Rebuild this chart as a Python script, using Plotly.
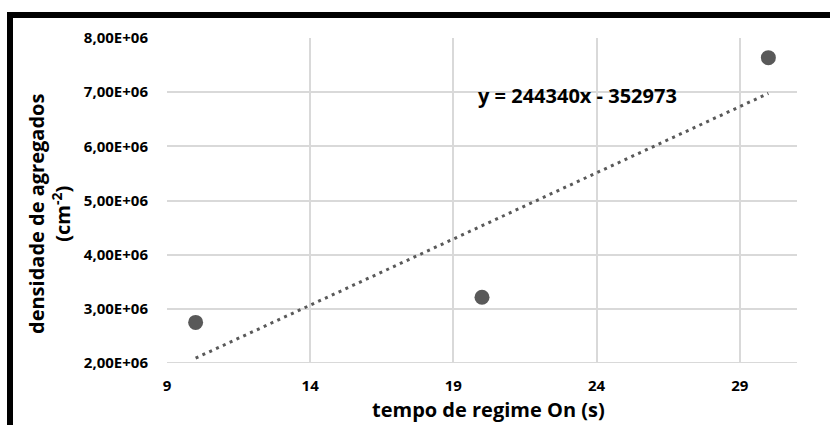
import plotly.graph_objects as go

# Data
tempo_on = [10, 20, 30]
densidade = [2.75e6, 3.215e6, 7.637e6]
trend_slope = 244340
trend_intercept = -352973
trend_x = [10, 30]
eq_label = "y = 244340x - 352973"
x_ticks = [9, 14, 19, 24, 29]
y_ticks = [2e6, 3e6, 4e6, 5e6, 6e6, 7e6, 8e6]
y_tick_labels = ["2,00E+06", "3,00E+06", "4,00E+06", "5,00E+06", "6,00E+06", "7,00E+06", "8,00E+06"]

FONT = "Open Sans"
GRAY = "#595959"
GRID = "#d9d9d9"

trend_y = [trend_slope * x + trend_intercept for x in trend_x]

fig = go.Figure()
fig.add_trace(go.Scatter(
    x=trend_x, y=trend_y, mode="lines",
    line=dict(color=GRAY, width=3, dash="3px,4.5px"),
    hoverinfo="skip", showlegend=False,
))
fig.add_trace(go.Scatter(
    x=tempo_on, y=densidade, mode="markers",
    marker=dict(color=GRAY, size=15),
    showlegend=False,
))

L, R, T, B = 167, 33, 38, 62
W, H = 830, 425
pw, ph = W - L - R, H - T - B

def px(xp):
    return (xp - L) / pw

def py(yp):
    return (H - B - yp) / ph

fig.update_layout(
    width=W, height=H,
    margin=dict(l=L, r=R, t=T, b=B),
    paper_bgcolor="white", plot_bgcolor="white",
    font=dict(family=FONT, color="black"),
    xaxis=dict(
        range=[9, 31], tickvals=x_ticks, ticktext=[str(v) for v in x_ticks],
        showgrid=True, gridcolor=GRID, gridwidth=1.5,
        zeroline=False, showline=False, ticks="",
        tickfont=dict(size=15, family=FONT, weight="bold", color="black"),
        ticklabelstandoff=12,
    ),
    yaxis=dict(
        range=[2e6, 8e6], tickvals=y_ticks, ticktext=y_tick_labels,
        showgrid=True, gridcolor=GRID, gridwidth=1.5,
        zeroline=False, showline=False, ticks="",
        tickfont=dict(size=15, family=FONT, weight="bold", color="black"),
        ticklabelstandoff=18,
    ),
    shapes=[
        dict(type="line", xref="x", yref="y", x0=9, x1=31, y0=2e6, y1=2e6,
             line=dict(color=GRID, width=2), layer="below"),
        dict(type="rect", xref="paper", yref="paper",
             x0=px(7), x1=px(835), y0=py(18), y1=py(12),
             fillcolor="black", line=dict(width=0)),
        dict(type="rect", xref="paper", yref="paper",
             x0=px(7), x1=px(13), y0=py(430), y1=py(12),
             fillcolor="black", line=dict(width=0)),
    ],
    annotations=[
        dict(text=eq_label, xref="paper", yref="paper",
             x=px(577), y=py(95), xanchor="center", yanchor="middle", showarrow=False,
             font=dict(size=20, family=FONT, weight="bold", color="black")),
        dict(text="tempo de regime On (s)", xref="paper", yref="paper",
             x=px(488), y=py(409), xanchor="center", yanchor="middle", showarrow=False,
             font=dict(size=20, family=FONT, weight="bold", color="black")),
        dict(text="densidade de agregados<br>(cm<sup>-2</sup>)", xref="paper", yref="paper",
             x=px(49), y=py(214), xanchor="center", yanchor="middle", showarrow=False,
             textangle=-90,
             font=dict(size=20, family=FONT, weight="bold", color="black")),
    ],
)

fig.write_html("out.html")
